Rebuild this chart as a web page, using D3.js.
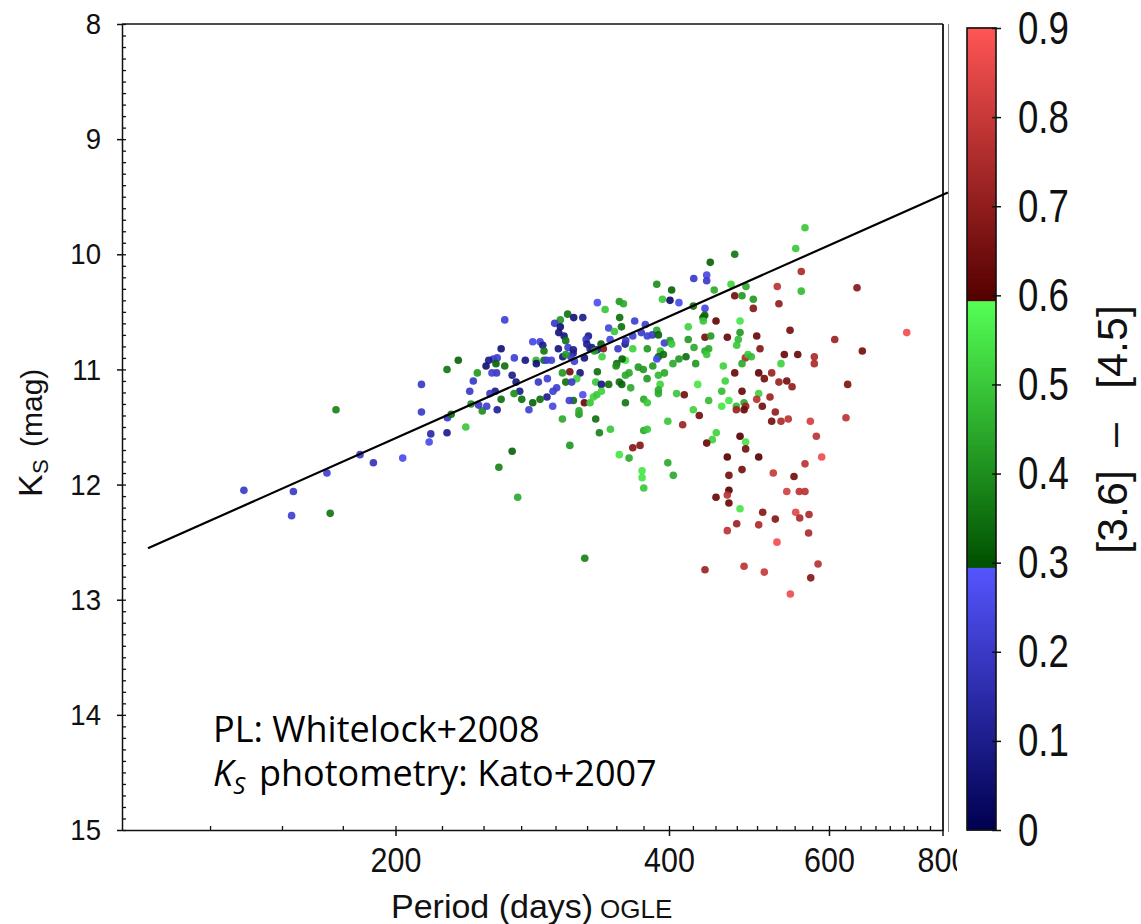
<!DOCTYPE html>
<html>
<head>
<meta charset="utf-8">
<script src="https://cdn.jsdelivr.net/npm/d3@7"></script>
<style>
body { margin: 0; background: #fff; }
svg { display: block; }
</style>
</head>
<body>
<script>
// period (days), Ks (mag) and [3.6]-[4.5] colour of each star
var periods = [
  136.2, 154.4, 153.7, 168.1, 169.5, 172.0, 182.8, 189.1, 203.7, 213.6, 213.6, 218.7, 227.9, 217.8, 227.9, 228.1, 230.3, 234.5, 239.0, 323.1,
  425.9, 387.8, 402.7, 393.4, 401.0, 410.2, 333.6, 352.7, 356.4, 340.2,
  425.4, 263.8, 309.4, 314.2, 321.5, 303.7, 353.0, 366.7, 420.0, 299.4,
  303.7, 354.6, 343.3, 348.3, 376.7, 387.8, 372.9, 383.5, 378.6, 389.4,
  364.9, 302.5, 306.6, 326.1, 324.2, 344.5, 283.2, 288.5, 307.9, 290.5,
  302.2, 309.7, 313.9, 324.8, 328.9, 336.7, 338.7, 333.4, 327.5, 357.9,
  358.5, 351.5, 364.9, 378.6, 395.4, 401.0, 402.7, 391.4, 261.4, 337.6,
  331.1, 322.8, 313.7, 311.9, 305.6, 307.9, 314.7, 291.4, 285.6, 291.4,
  296.9, 293.4, 277.9, 285.8, 270.3, 258.8, 256.2, 253.3, 251.6, 258.0,
  263.8, 258.4, 255.4, 246.1, 243.6, 268.8, 271.5, 287.3, 293.9, 305.3,
  311.1, 319.3, 316.6, 333.6, 307.9, 312.6, 332.2, 337.0, 343.3, 358.2,
  355.2, 350.4, 349.8, 370.1, 374.8, 378.4, 383.9, 389.4, 394.4, 387.8,
  404.0, 410.2, 417.6, 428.0, 389.4, 395.4, 358.2, 361.5, 352.7, 354.9,
  363.0, 391.1, 389.4, 389.4, 407.8, 415.8, 430.2, 321.5, 322.8, 327.5,
  330.3, 333.1, 337.0, 313.9, 310.7, 298.1, 300.9, 293.6, 297.9, 288.5,
  283.2, 280.5, 275.4, 274.0, 270.1, 261.4, 257.5, 254.1, 258.8, 249.2,
  252.0, 246.9, 242.2, 241.4, 268.8, 259.9, 272.6, 311.1, 305.3, 318.4,
  318.4, 332.2, 335.3, 344.8, 358.2, 375.2, 378.6, 375.2, 378.6, 364.9,
  371.7, 398.8, 414.1, 361.5, 352.7, 373.6, 373.6, 375.2, 398.8, 404.4,
  425.4, 431.9,
  564.6, 551.5, 472.5, 444.1, 559.3, 440.1, 440.1, 468.1, 486.2, 526.3,
  448.6, 472.5, 481.3, 559.3, 644.2, 495.3, 528.5, 438.2, 495.3, 437.9,
  436.0, 436.3, 450.6, 478.9, 478.9, 543.6, 420.0, 438.2, 444.6, 463.7,
  476.8, 499.6, 608.8, 730.7, 474.9, 426.2, 438.2, 442.3, 440.1, 503.8,
  652.9, 485.4, 488.7, 492.8, 481.3, 535.8, 554.3, 578.1, 578.1, 531.3,
  459.0, 472.5, 502.1, 509.3, 518.9, 528.5, 539.1, 546.4, 629.1, 461.3,
  457.2, 481.3, 502.1, 499.6, 516.7, 442.3, 465.6, 474.4, 483.8, 485.8,
  474.4, 483.8, 506.7, 523.7, 457.2, 518.9, 531.3, 541.2, 572.3, 626.4,
  581.1, 589.0, 564.6, 549.1, 521.0, 539.1, 556.5, 564.6, 450.9, 446.4,
  440.1, 478.9, 485.8, 485.8, 502.1, 463.7, 481.3, 465.6, 465.6, 450.6,
  463.7,
  465.6, 478.9, 507.2, 523.7, 502.1, 474.9, 463.7, 551.5, 557.1, 570.4,
  569.8, 525.9, 438.2, 483.8, 509.3, 583.6, 572.9, 544.0
];
var ksMag = [
  12.05, 12.06, 12.27, 11.90, 12.25, 11.35, 11.74, 11.81, 11.77, 11.13, 11.37, 11.56, 11.55, 11.63, 11.00, 11.42, 11.39, 10.92, 11.50, 12.64,
  10.21, 10.26, 10.31, 10.39, 10.40, 10.42, 10.42, 10.41, 10.43, 10.48,
  10.45, 10.57, 10.52, 10.55, 10.55, 10.57, 10.55, 10.58, 10.63, 10.60,
  10.63, 10.63, 10.64, 10.67, 10.61, 10.66, 10.68, 10.70, 10.71, 10.70,
  10.71, 10.68, 10.71, 10.71, 10.74, 10.74, 10.76, 10.76, 10.75, 10.79,
  10.82, 10.81, 10.83, 10.78, 10.81, 10.78, 10.82, 10.83, 10.82, 10.78,
  10.75, 10.82, 10.82, 10.82, 10.77, 10.75, 10.78, 10.84, 10.82, 10.89,
  10.84, 10.90, 10.86, 10.89, 10.89, 10.87, 10.93, 10.84, 10.92, 10.92,
  10.92, 10.92, 10.92, 10.95, 10.90, 10.90, 10.91, 10.92, 10.97, 10.95,
  10.97, 11.03, 11.03, 11.03, 11.10, 11.05, 11.11, 11.11, 11.08, 11.03,
  11.02, 11.03, 11.08, 11.02, 11.11, 11.11, 11.11, 11.13, 11.13, 10.92,
  10.91, 10.95, 10.97, 10.98, 11.00, 11.08, 10.97, 10.89, 10.87, 10.91,
  10.95, 10.91, 10.89, 10.95, 11.05, 11.03, 11.05, 11.03, 11.11, 11.13,
  11.16, 11.13, 11.18, 11.21, 11.21, 11.22, 11.13, 11.22, 11.29, 11.29,
  11.24, 11.22, 11.19, 11.27, 11.27, 11.19, 11.16, 11.24, 11.32, 11.26,
  11.29, 11.35, 11.26, 11.19, 11.21, 11.26, 11.19, 11.21, 11.35, 11.36,
  11.32, 11.31, 11.30, 11.19, 11.71, 11.85, 12.11, 11.66, 11.43, 11.39,
  11.36, 11.43, 11.55, 11.52, 11.29, 11.26, 11.29, 11.53, 11.52, 11.68,
  11.66, 11.45, 11.48, 11.77, 11.74, 11.88, 11.94, 12.03, 11.81, 11.92,
  11.35, 11.40,
  9.77, 9.95, 10.00, 10.07, 10.15, 10.18, 10.23, 10.26, 10.28, 10.28,
  10.31, 10.36, 10.36, 10.32, 10.29, 10.39, 10.43, 10.47, 10.47, 10.53,
  10.55, 10.58, 10.58, 10.58, 10.68, 10.66, 10.74, 10.72, 10.71, 10.72,
  10.74, 10.71, 10.74, 10.68, 10.79, 10.81, 10.84, 10.82, 10.87, 10.82,
  10.84, 10.90, 10.87, 10.89, 10.95, 10.87, 10.87, 10.89, 10.95, 10.95,
  10.97, 11.03, 11.03, 11.08, 11.03, 11.11, 11.10, 11.15, 11.13, 11.10,
  11.19, 11.19, 11.21, 11.26, 11.24, 11.27, 11.27, 11.32, 11.29, 11.32,
  11.35, 11.35, 11.32, 11.37, 11.32, 11.45, 11.45, 11.43, 11.45, 11.42,
  11.58, 11.76, 11.82, 11.93, 11.90, 12.06, 12.06, 12.06, 11.55, 11.61,
  11.64, 11.58, 11.63, 11.69, 11.76, 11.76, 11.87, 11.92, 12.05, 12.11,
  12.09,
  12.16, 12.21, 12.24, 12.30, 12.35, 12.34, 12.40, 12.24, 12.29, 12.26,
  12.42, 12.50, 12.74, 12.71, 12.76, 12.69, 12.81, 12.95
];
var colour36_45 = [
  .20, .20, .22, .22, .36, .38, .20, .18, .26, .20, .20, .15, .10, .26, .36, .20, .35, .33, .50, .38,
  .20, .40, .33, .50, .05, .26, .27, .42, .45, .50,
  .35, .22, .36, .07, .10, .42, .35, .22, .52, .20,
  .06, .35, .24, .50, .22, .45, .20, .20, .22, .33,
  .22, .07, .08, .10, .20, .24, .25, .23, .36, .10,
  .08, .22, .10, .10, .10, .33, .68, .10, .12, .10,
  .20, .20, .52, .42, .22, .42, .50, .48, .07, .52,
  .42, .08, .10, .20, .08, .42, .22, .36, .48, .35,
  .23, .22, .08, .06, .22, .22, .22, .10, .06, .33,
  .35, .20, .22, .42, .20, .10, .08, .20, .22, .42,
  .65, .08, .52, .35, .35, .20, .50, .08, .35, .55,
  .33, .35, .40, .42, .42, .42, .42, .33, .35, .25,
  .45, .42, .35, .42, .48, .45, .45, .45, .35, .33,
  .45, .52, .45, .45, .50, .65, .55, .27, .63, .50,
  .52, .50, .52, .35, .22, .22, .22, .10, .25, .35,
  .33, .22, .35, .10, .40, .35, .10, .20, .12, .40,
  .22, .20, .40, .20, .33, .38, .45, .42, .45, .42,
  .45, .35, .38, .50, .36, .45, .50, .45, .50, .68,
  .68, .50, .72, .45, .55, .55, .55, .50, .45, .45,
  .52, .65,
  .50, .50, .36, .33, .75, .25, .20, .52, .45, .78,
  .45, .65, .42, .48, .68, .42, .70, .25, .68, .33,
  .33, .50, .62, .55, .42, .65, .42, .65, .42, .63,
  .48, .63, .72, .88, .50, .45, .45, .45, .50, .68,
  .65, .75, .50, .48, .45, .63, .63, .75, .75, .52,
  .52, .63, .62, .65, .72, .72, .65, .70, .67, .52,
  .48, .63, .52, .77, .72, .48, .55, .48, .45, .72,
  .72, .63, .65, .70, .55, .65, .75, .78, .82, .78,
  .78, .87, .78, .65, .80, .82, .78, .78, .52, .52,
  .63, .60, .55, .65, .60, .60, .65, .65, .60, .63,
  .78,
  .63, .55, .68, .68, .75, .72, .78, .85, .75, .75,
  .75, .88, .72, .78, .80, .77, .68, .87
];

// Whitelock+2008 PL relation, shifted to the sample
var plSlope = -3.51, plPivot = 2.38, plZero = 11.32;
var plRange = [106.8, 811];

var xTicks = [200, 400, 600, 800];
var yTicks = [8, 9, 10, 11, 12, 13, 14, 15];
var cbTicks = [0, 0.1, 0.2, 0.3, 0.4, 0.5, 0.6, 0.7, 0.8, 0.9];

// blue / green / red ramps of the colour bar
var cmapStops = [
  [0, 0.295, "#000050", "#5555ff"],
  [0.295, 0.595, "#005000", "#55ff55"],
  [0.595, 0.9, "#550000", "#ff5555"]
];

var W = 1141, H = 924;
var svg = d3.select("body").append("svg").attr("width", W).attr("height", H);

var x = d3.scaleLog().domain([100, 800]).range([122, 942.5]);
var y = d3.scaleLinear().domain([8, 15]).range([24, 830]);
var cb = d3.scaleLinear().domain([0, 0.9]).range([830, 28]);

function colour(v) {
    for (var i = 0; i < cmapStops.length; i++) {
        var s = cmapStops[i];
        if (v < s[1] || i == cmapStops.length - 1) {
            var t = Math.max(0, Math.min(1, (v - s[0]) / (s[1] - s[0])));
            return d3.interpolateRgb(s[2], s[3])(t);
        }
    }
}

function styleAxis(g) {
    g.selectAll("path, line").attr("stroke", "#111").attr("stroke-width", 1.5);
}

//left axis, labels + outward ticks
var gy = svg.append("g").attr("transform", "translate(122,0)")
    .call(d3.axisLeft(y).tickValues(yTicks).tickSize(5).tickSizeOuter(0).tickPadding(16)
        .tickFormat(d3.format("d")));
styleAxis(gy);
gy.selectAll("text")
    .attr("font-family", "Liberation Sans, Arial, sans-serif").attr("font-size", 30)
    .attr("fill", "#111")
    .attr("transform", "scale(0.92,1)").attr("x", -21 / 0.92);

//left minor ticks, inward
var gy2 = svg.append("g").attr("transform", "translate(122,0)")
    .call(d3.axisRight(y).tickValues(d3.range(80, 151).map(function(d) { return d / 10; }))
        .tickSize(4).tickFormat(""));
gy2.select(".domain").remove();
styleAxis(gy2);
gy2.selectAll("line").attr("stroke-width", 1.3);

//bottom axis
svg.append("clipPath").attr("id", "xclip")
    .append("rect").attr("x", 0).attr("y", -20).attr("width", 957).attr("height", 120);
var gx = svg.append("g").attr("transform", "translate(0,830)")
    .attr("clip-path", "url(#xclip)")
    .call(d3.axisBottom(x).tickValues(xTicks).tickSize(6).tickSizeOuter(0).tickPadding(11)
        .tickFormat(d3.format("d")));
styleAxis(gx);
gx.selectAll("text")
    .attr("font-family", "Liberation Sans, Arial, sans-serif").attr("font-size", 35)
    .attr("fill", "#111").attr("transform", "scale(0.87,1)");

var gx2 = svg.append("g").attr("transform", "translate(0,830)")
    .call(d3.axisTop(x).tickValues(d3.range(125, 800, 25)).tickSize(4).tickFormat(""));
gx2.select(".domain").remove();
styleAxis(gx2);
gx2.selectAll("line").attr("stroke-width", 1.3);

// top and right frame
svg.append("line").attr("x1", 122).attr("x2", 943).attr("y1", 24).attr("y2", 24)
    .attr("stroke", "#111").attr("stroke-width", 1.5);
svg.append("line").attr("x1", 943).attr("x2", 943).attr("y1", 24).attr("y2", 831)
    .attr("stroke", "#111").attr("stroke-width", 1.8);
svg.append("line").attr("x1", 948.5).attr("x2", 948.5).attr("y1", 24).attr("y2", 832)
    .attr("stroke", "#888").attr("stroke-width", 1);

// the stars
var stars = periods.map(function(p, i) { return { p: p, k: ksMag[i], c: colour36_45[i] }; });
svg.append("g").selectAll("circle")
    .data(stars)
    .enter()
    .append("circle")
    .attr("cx", function(d) { return x(d.p); })
    .attr("cy", function(d) { return y(d.k); })
    .attr("r", 3.8)
    .attr("fill", function(d) { return colour(d.c); })
    .attr("fill-opacity", 0.92);

// PL line
var plLine = d3.line()
    .x(function(p) { return x(p); })
    .y(function(p) { return y(plZero + plSlope * (Math.log10(p) - plPivot)); });
svg.append("path").attr("d", plLine(plRange))
    .attr("fill", "none").attr("stroke", "#000").attr("stroke-width", 2.2);

// axis titles
var ylab = svg.append("text").attr("transform", "translate(42,497) rotate(-90)")
    .attr("font-family", "Liberation Sans, Arial, sans-serif").attr("fill", "#111");
ylab.append("tspan").attr("x", 0).attr("y", 0).attr("font-size", 34).text("K");
ylab.append("tspan").attr("x", 23).attr("y", 6).attr("font-size", 22).text("S");
ylab.append("tspan").attr("x", 50).attr("y", 0).attr("font-size", 30).text("(mag)");

var xlab = svg.append("text").attr("x", 391).attr("y", 918)
    .attr("font-family", "Liberation Sans, Arial, sans-serif").attr("fill", "#111");
xlab.append("tspan").attr("font-size", 34).text("Period (days)");
xlab.append("tspan").attr("x", 600).attr("font-size", 26).text("OGLE");

// notes in the plot
var note = svg.append("g").attr("font-family", "Open Sans, sans-serif").attr("fill", "#000");
note.append("text").attr("x", 213).attr("y", 742).attr("font-size", 36).text("PL: Whitelock+2008");
var n2 = note.append("text").attr("x", 213).attr("y", 786).attr("font-size", 36);
n2.append("tspan").attr("font-style", "italic").text("K");
n2.append("tspan").attr("font-style", "italic").attr("font-size", 24).attr("dy", 8).text("S");
n2.append("tspan").attr("x", 259).attr("dy", -8).text("photometry: Kato+2007");

// colour bar
var cbStep = 0.9 / 400;
svg.append("g").selectAll("rect")
    .data(d3.range(0, 0.9, cbStep))
    .enter()
    .append("rect")
    .attr("x", 967).attr("width", 29)
    .attr("y", function(d) { return cb(d + cbStep) - 0.5; })
    .attr("height", function(d) { return cb(d) - cb(d + cbStep) + 1; })
    .attr("fill", function(d) { return colour(d + cbStep / 2); });
svg.append("rect").attr("x", 967).attr("y", 28).attr("width", 29).attr("height", 802)
    .attr("fill", "none").attr("stroke", "#111").attr("stroke-width", 1.6);

var gc = svg.append("g").attr("transform", "translate(996,0)")
    .call(d3.axisRight(cb).tickValues(cbTicks).tickSize(5).tickSizeOuter(0).tickPadding(17)
        .tickFormat(function(d) { return d === 0 ? "0" : d.toFixed(1); }));
gc.select(".domain").remove();
styleAxis(gc);
gc.selectAll("text")
    .attr("font-family", "Liberation Sans, Arial, sans-serif").attr("font-size", 47)
    .attr("fill", "#111")
    .attr("transform", "scale(0.78,1)").attr("x", 22 / 0.78);
var gc2 = svg.append("g").attr("transform", "translate(996,0)")
    .call(d3.axisLeft(cb).tickValues(cbTicks).tickSize(4).tickFormat(""));
gc2.select(".domain").remove();
styleAxis(gc2);

// colour bar title
var cbTitle = [["[3.6]", 512], ["\u2013", 435], ["[4.5]", 347]];
svg.append("g").selectAll("text")
    .data(cbTitle)
    .enter()
    .append("text")
    .attr("transform", function(d) { return "translate(1127," + d[1] + ") rotate(-90)"; })
    .attr("text-anchor", "middle")
    .attr("font-family", "Liberation Sans, Arial, sans-serif").attr("font-size", 43)
    .attr("fill", "#111")
    .text(function(d) { return d[0]; });
</script>
</body>
</html>
